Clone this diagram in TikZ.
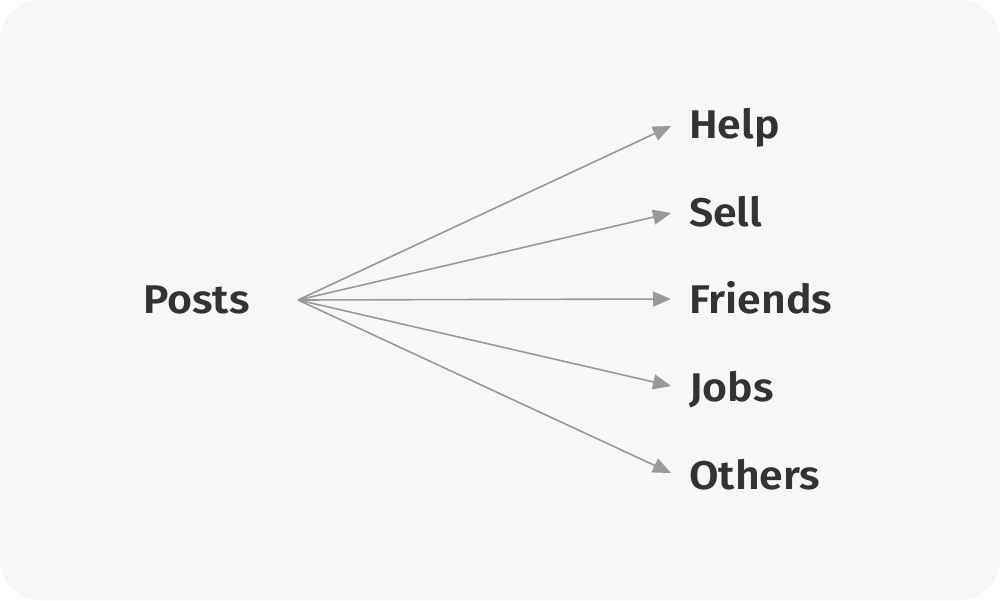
\documentclass[tikz,border=0pt]{standalone}
\usepackage{fontspec}
\setmainfont{Fira Sans}[BoldFont={* SemiBold},BoldFeatures={FakeStretch=1.07}]
\usetikzlibrary{arrows.meta}
\definecolor{bg}{HTML}{F7F7F7}
\definecolor{txt}{HTML}{333333}
\definecolor{arr}{HTML}{999999}
\begin{document}
\begin{tikzpicture}[x=1pt,y=-1pt,
  lbl/.style={anchor=base west,inner sep=0pt,text=txt,font=\fontsize{40}{48}\selectfont\bfseries},
  link/.style={draw=arr,line width=1.6pt,-{Triangle[length=18pt,width=15pt]}}]
\useasboundingbox (0,0) rectangle (1000,600);
\fill[bg,rounded corners=40pt] (0,0) rectangle (1000,600);
\node[lbl] (posts) at (143,313) {Posts};
\coordinate (src) at (298,300);
\node[lbl] (help) at (689,138) {Help};
\node[lbl] (sell) at (689,226) {Sell};
\node[lbl] (friends) at (689,313) {Friends};
\node[lbl] (jobs) at (689,401) {Jobs};
\node[lbl] (others) at (689,489) {Others};
\coordinate (t1) at (671,126);
\coordinate (t2) at (671,213);
\coordinate (t3) at (671,299);
\coordinate (t4) at (671,386);
\coordinate (t5) at (671,473);
\draw[link] (src) -- (t1);
\draw[link] (src) -- (t2);
\draw[link] (src) -- (t3);
\draw[link] (src) -- (t4);
\draw[link] (src) -- (t5);
\end{tikzpicture}
\end{document}
